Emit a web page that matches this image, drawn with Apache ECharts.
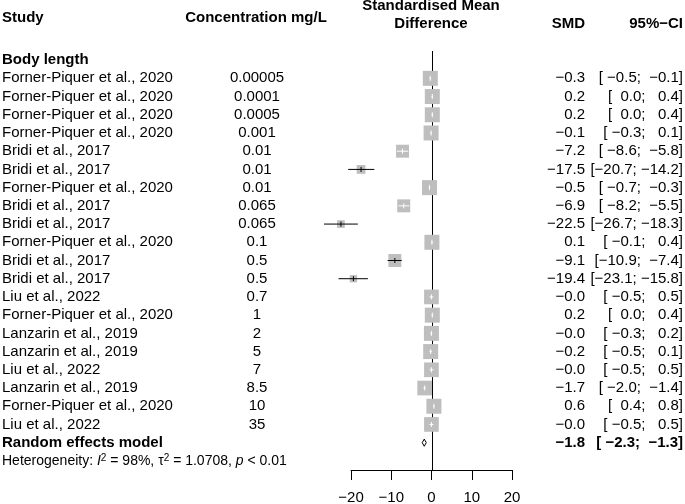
<!DOCTYPE html>
<html>
<head>
<meta charset="utf-8">
<script src="https://cdn.jsdelivr.net/npm/echarts@6/dist/echarts.min.js"></script>
<style>
html,body{margin:0;padding:0;background:#fff;}
#chart{width:685px;height:504px;}
</style>
</head>
<body>
<div id="chart"></div>
<script>
// ---- data ----
const studies = [
  'Forner-Piquer et al., 2020','Forner-Piquer et al., 2020','Forner-Piquer et al., 2020','Forner-Piquer et al., 2020',
  'Bridi et al., 2017','Bridi et al., 2017','Forner-Piquer et al., 2020','Bridi et al., 2017','Bridi et al., 2017',
  'Forner-Piquer et al., 2020','Bridi et al., 2017','Bridi et al., 2017','Liu et al., 2022','Forner-Piquer et al., 2020',
  'Lanzarin et al., 2019','Lanzarin et al., 2019','Liu et al., 2022','Lanzarin et al., 2019','Forner-Piquer et al., 2020',
  'Liu et al., 2022'
];
const concentrations = ['0.00005','0.0001','0.0005','0.001','0.01','0.01','0.01','0.065','0.065','0.1','0.5','0.5','0.7','1','2','5','7','8.5','10','35'];
const smd   = [-0.3, 0.2, 0.2, -0.1, -7.2, -17.5, -0.5, -6.9, -22.5, 0.1, -9.1, -19.4, -0.02, 0.2, -0.02, -0.2, -0.02, -1.7, 0.6, -0.02];
const lower = [-0.5, 0.0, 0.0, -0.3, -8.6, -20.7, -0.7, -8.2, -26.7, -0.1, -10.9, -23.1, -0.5, 0.0, -0.3, -0.5, -0.5, -2.0, 0.4, -0.5];
const upper = [-0.1, 0.4, 0.4, 0.1, -5.8, -14.2, -0.3, -5.5, -18.3, 0.4, -7.4, -15.8, 0.5, 0.4, 0.2, 0.1, 0.5, -1.4, 0.8, 0.5];
const weights = [5.9, 5.9, 5.9, 5.9, 4.4, 2.0, 5.9, 4.4, 1.55, 5.9, 4.4, 1.4, 5.65, 5.9, 5.9, 5.9, 5.65, 5.65, 5.9, 5.65];
const pooled = {label: 'Random effects model', smd: -1.8, lower: -2.3, upper: -1.3};
const groupLabel = 'Body length';
const heterogeneity = 'Heterogeneity: {i|I}{sup|2} = 98%, τ{sup|2} = 1.0708, {i|p} < 0.01';
const xTicks = {min: -20, max: 20, interval: 10};
const headers = {study: 'Study', conc: 'Concentration mg/L', effect1: 'Standardised Mean', effect2: 'Difference', smd: 'SMD', ci: '95%−CI'};

// ---- layout / style ----
const FONT = '"Liberation Sans", Arial, Helvetica, sans-serif';
const FS = 15;
const BOX_SCALE = 6.175;
const SQUARE = '#bebebe';
const COL = {study: 2, conc: 257, smd: 585, ci: 683};

function fmt(v){ return v.toFixed(1).replace('-', '\u2212'); }
function fmtCI(lo, hi){ return '[' + fmt(lo).padStart(5, ' ') + '; ' + fmt(hi).padStart(5, ' ') + ']'; }

const forestData = smd.map((v, i) => [v, i, lower[i], upper[i], weights[i]]);
const nStudies = studies.length;
const pooledRow = nStudies;
const hetRow = nStudies + 1;

const chart = echarts.init(document.getElementById('chart'), null, {renderer: 'canvas'});

function txt(x, y, text, align, extra){
  return Object.assign({
    type: 'text',
    style: Object.assign({
      x: x, y: y, text: text, align: align, verticalAlign: 'middle',
      fontFamily: FONT, fontSize: FS, fill: '#000'
    }, extra || {})
  });
}

const option = {
  animation: false,
  backgroundColor: '#fff',
  grid: {left: 351, right: 173, top: 51, bottom: 34, containLabel: false, outerBoundsMode: 'none'},
  xAxis: {
    type: 'value', min: xTicks.min, max: xTicks.max, interval: xTicks.interval,
    axisLine: {show: true, onZero: false, lineStyle: {color: '#000', width: 1}},
    axisTick: {show: true, length: 10, lineStyle: {color: '#000', width: 1}},
    axisLabel: {fontSize: FS, fontFamily: FONT, color: '#000', margin: 20,
      formatter: v => String(v).replace('-', '\u2212')},
    splitLine: {show: false}
  },
  yAxis: {type: 'value', inverse: true, min: -1.5, max: hetRow + 0.5, show: false},
  graphic: [
    {type: 'text', left: COL.study, top: 10, style: {text: headers.study, font: 'bold 15px ' + FONT, fill: '#000'}},
    {type: 'text', x: 256, y: 18, style: {text: headers.conc, font: 'bold 15px ' + FONT, fill: '#000', align: 'center', verticalAlign: 'middle'}},
    {type: 'text', x: 431, y: 6, style: {text: headers.effect1, font: 'bold 15px ' + FONT, fill: '#000', align: 'center', verticalAlign: 'middle'}},
    {type: 'text', x: 431, y: 24, style: {text: headers.effect2, font: 'bold 15px ' + FONT, fill: '#000', align: 'center', verticalAlign: 'middle'}},
    {type: 'text', x: COL.smd, y: 24, style: {text: headers.smd, font: 'bold 15px ' + FONT, fill: '#000', align: 'right', verticalAlign: 'middle'}},
    {type: 'text', x: COL.ci, y: 24, style: {text: headers.ci, font: 'bold 15px ' + FONT, fill: '#000', align: 'right', verticalAlign: 'middle'}}
  ],
  series: [
    {
      // reference line at zero
      type: 'custom', z: 1, clip: false, silent: true,
      data: [[0]],
      renderItem: function(params, api){
        const a = api.coord([0, -1.5]);
        const b = api.coord([0, hetRow + 0.5]);
        return {type: 'line', shape: {x1: Math.round(a[0]) + 0.5, y1: a[1], x2: Math.round(b[0]) + 0.5, y2: b[1]},
                style: {stroke: '#000', lineWidth: 1}};
      }
    },
    {
      // study squares and confidence intervals
      type: 'custom', z: 3, clip: false, silent: true,
      data: forestData,
      renderItem: function(params, api){
        const p = api.coord([api.value(0), api.value(1)]);
        const pl = api.coord([api.value(2), api.value(1)]);
        const ph = api.coord([api.value(3), api.value(1)]);
        const s = BOX_SCALE * Math.sqrt(api.value(4));
        const inside = (ph[0] - pl[0]) < s;
        const c = inside ? '#fff' : '#000';
        return {type: 'group', children: [
          {type: 'rect', shape: {x: p[0] - s / 2, y: p[1] - s / 2, width: s, height: s}, style: {fill: SQUARE}},
          {type: 'line', shape: {x1: pl[0], y1: p[1], x2: ph[0], y2: p[1]}, style: {stroke: c, lineWidth: 1}},
          {type: 'line', shape: {x1: p[0], y1: p[1] - 2.5, x2: p[0], y2: p[1] + 2.5}, style: {stroke: c, lineWidth: 1}}
        ]};
      }
    },
    {
      // pooled diamond
      type: 'custom', z: 3, clip: false, silent: true,
      data: [[pooled.smd, pooledRow, pooled.lower, pooled.upper]],
      renderItem: function(params, api){
        const p = api.coord([api.value(0), api.value(1)]);
        const pl = api.coord([api.value(2), api.value(1)]);
        const ph = api.coord([api.value(3), api.value(1)]);
        const h = 3.6;
        return {type: 'polygon', shape: {points: [[pl[0], p[1]], [p[0], p[1] - h], [ph[0], p[1]], [p[0], p[1] + h]]},
                style: {fill: '#fff', stroke: '#000', lineWidth: 1}};
      }
    },
    {
      // text columns
      type: 'custom', z: 4, clip: false, silent: true,
      data: studies.map((s, i) => [0, i]).concat([[0, -1], [0, pooledRow], [0, hetRow]]),
      renderItem: function(params, api){
        const row = api.value(1);
        const y = api.coord([0, row])[1];
        if (row === -1) {
          return txt(COL.study, y, groupLabel, 'left', {fontWeight: 'bold'});
        }
        if (row === pooledRow) {
          return {type: 'group', children: [
            txt(COL.study, y, pooled.label, 'left', {fontWeight: 'bold'}),
            txt(COL.smd, y, fmt(pooled.smd), 'right', {fontWeight: 'bold'}),
            txt(COL.ci, y, fmtCI(pooled.lower, pooled.upper), 'right', {fontWeight: 'bold'})
          ]};
        }
        if (row === hetRow) {
          return {type: 'text', style: {
            x: COL.study, y: y, text: heterogeneity, align: 'left', verticalAlign: 'middle',
            fontFamily: FONT, fontSize: 14, fill: '#000', lineHeight: 16,
            rich: {
              i: {fontStyle: 'italic', fontFamily: FONT, fontSize: 14, lineHeight: 16},
              sup: {fontFamily: FONT, fontSize: 10, lineHeight: 10, verticalAlign: 'top'}
            }
          }};
        }
        const i = row;
        return {type: 'group', children: [
          txt(COL.study, y, studies[i], 'left'),
          txt(COL.conc, y, concentrations[i], 'center'),
          txt(COL.smd, y, fmt(smd[i]), 'right'),
          txt(COL.ci, y, fmtCI(lower[i], upper[i]), 'right')
        ]};
      }
    }
  ]
};
chart.setOption(option);
</script>
</body>
</html>
